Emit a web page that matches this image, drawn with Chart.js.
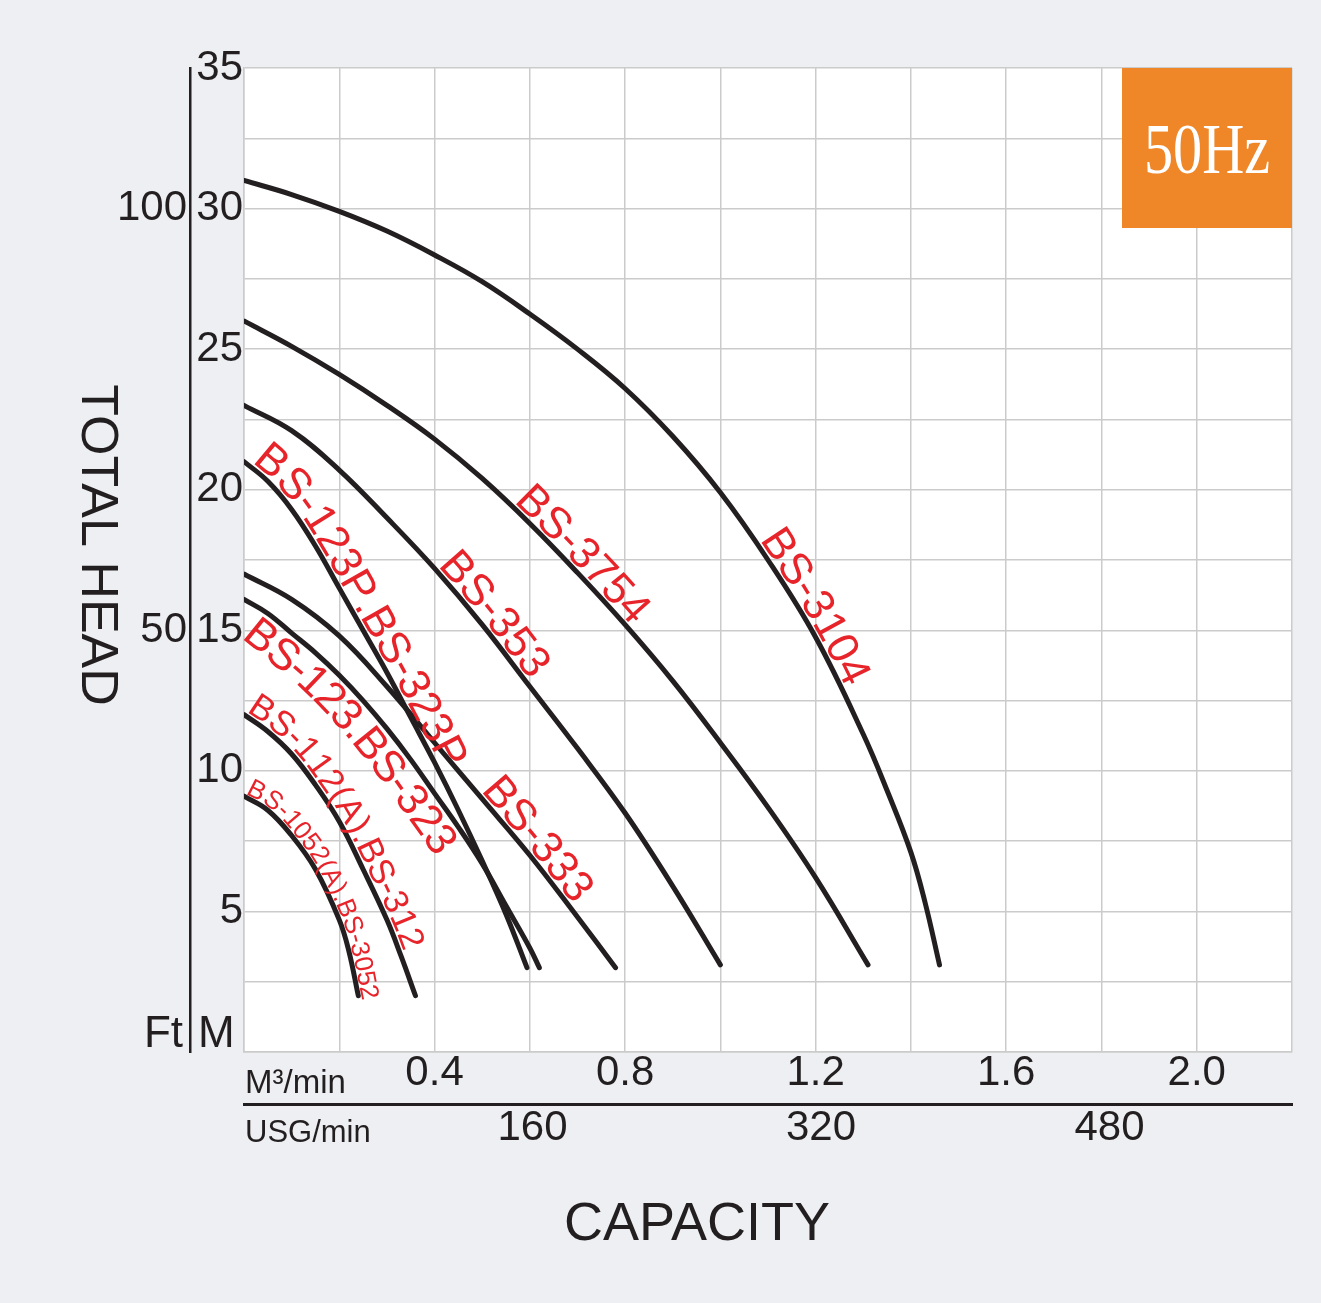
<!DOCTYPE html>
<html>
<head>
<meta charset="utf-8">
<title>50Hz pump curves</title>
<script src="https://cdn.jsdelivr.net/npm/chart.js@4/dist/chart.umd.min.js"></script>
<style>
  body { margin: 0; background: #edeff2; }
  #wrap { width: 1321px; height: 1303px; }
</style>
</head>
<body>
<div id="wrap"><canvas id="pumpChart"></canvas></div>
<script>
// capacity in m3/min, head in m
var q3104 = [0, 0.1, 0.2, 0.3, 0.4, 0.5, 0.6, 0.7, 0.8, 0.9, 1.0, 1.1, 1.2, 1.3, 1.35, 1.4, 1.43, 1.46];
var h3104 = [31.0, 30.5, 29.9, 29.2, 28.35, 27.4, 26.25, 25.0, 23.6, 21.9, 19.9, 17.5, 14.75, 11.3, 9.3, 7.1, 5.3, 3.1];

var q3754 = [0, 0.1, 0.2, 0.3, 0.4, 0.5, 0.6, 0.7, 0.8, 0.9, 1.0, 1.1, 1.2, 1.31];
var h3754 = [26.0, 25.1, 24.1, 23.0, 21.8, 20.4, 18.8, 17.05, 15.2, 13.2, 11.0, 8.7, 6.2, 3.1];

var q353 = [0, 0.1, 0.2, 0.3, 0.4, 0.5, 0.6, 0.7, 0.8, 0.9, 1.0];
var h353 = [23.0, 22.1, 20.7, 19.0, 17.2, 15.2, 13.0, 10.8, 8.5, 5.9, 3.1];

var q123p = [0, 0.05, 0.1, 0.15, 0.2, 0.25, 0.3, 0.35, 0.4, 0.45, 0.5, 0.55, 0.594];
var h123p = [21.0, 20.3, 19.3, 18.0, 16.5, 15.0, 13.5, 11.9, 10.3, 8.6, 6.8, 4.9, 3.0];

var q333 = [0, 0.1, 0.2, 0.3, 0.4, 0.5, 0.6, 0.7, 0.78];
var h333 = [17.0, 16.1, 14.8, 13.0, 11.0, 9.0, 7.0, 4.8, 3.0];

var q123 = [0, 0.05, 0.1, 0.15, 0.2, 0.25, 0.3, 0.35, 0.4, 0.45, 0.5, 0.55, 0.6, 0.62];
var h123 = [16.1, 15.6, 14.9, 14.2, 13.4, 12.5, 11.5, 10.4, 9.2, 8.0, 6.7, 5.2, 3.7, 3.0];

var q112 = [0, 0.05, 0.1, 0.15, 0.2, 0.25, 0.3, 0.33, 0.36];
var h112 = [12.0, 11.4, 10.6, 9.5, 8.2, 6.5, 4.7, 3.4, 2.0];

var q1052 = [0, 0.05, 0.1, 0.15, 0.2, 0.22, 0.24];
var h1052 = [9.1, 8.6, 7.7, 6.5, 4.7, 3.6, 2.0];

// axes
var xGridValues = [0, 0.2, 0.4, 0.6, 0.8, 1.0, 1.2, 1.4, 1.6, 1.8, 2.0, 2.2];
var xTickLabels = [0.4, 0.8, 1.2, 1.6, 2.0];
var yGridValues = [0, 2.5, 5, 7.5, 10, 12.5, 15, 17.5, 20, 22.5, 25, 27.5, 30, 32.5, 35];
var yTickLabels = [5, 10, 15, 20, 25, 30, 35];
var ftTicks = [50, 100];
var usgTicks = [160, 320, 480];
var usgPerM3 = 264.172;

var ink = '#231f20';
var gridColor = '#cbcbcb';
var labelRed = '#e8242b';
var fontFamily = '"Liberation Sans", Arial, sans-serif';

// captions written along their curve: series index, capacity where the text starts,
// baseline distance from the line (negative = under the line)
var curveLabels = [
    { text: 'BS-3104', series: 0, startQ: 1.075, offset: 4, size: 44 },
    { text: 'BS-3754', series: 1, startQ: 0.56, offset: 4, size: 44 },
    { text: 'BS-353', series: 2, startQ: 0.40, offset: 4, size: 44 },
    { text: 'BS-123P.BS-323P', series: 3, startQ: 0.01, offset: 4, size: 44 },
    { text: 'BS-333', series: 4, startQ: 0.49, offset: 4, size: 44 },
    { text: 'BS-123.BS-323', series: 5, startQ: 0.04, offset: -36, size: 44 },
    { text: 'BS-112(A).BS-312', series: 6, startQ: 0.0, offset: 4, size: 35 },
    { text: 'BS-1052(A).BS-3052', series: 7, startQ: 0.0, offset: 3, size: 26 }
];

function pairs(qs, hs) {
    return qs.map(function (q, i) { return { x: q, y: hs[i] }; });
}

function curve(qs, hs) {
    return {
        data: pairs(qs, hs),
        borderColor: ink,
        borderWidth: 5,
        pointRadius: 0,
        fill: false,
        tension: 0.4,
        borderCapStyle: 'round',
        borderJoinStyle: 'round'
    };
}

function labelFor(v, list, digits) {
    var hit = list.find(function (t) { return Math.abs(t - v) < 1e-6; });
    if (hit === undefined) return '';
    return digits ? hit.toFixed(digits) : String(hit);
}

function setTicks(values) {
    return function (scale) {
        scale.ticks = values.map(function (v) { return { value: v }; });
    };
}

// sample the drawn bezier of a dataset into a polyline with arc lengths
function samplePath(points) {
    var out = [];
    for (var i = 0; i < points.length - 1; i++) {
        var p = points[i], q = points[i + 1];
        var c1x = p.cp2x === undefined ? p.x : p.cp2x;
        var c1y = p.cp2y === undefined ? p.y : p.cp2y;
        var c2x = q.cp1x === undefined ? q.x : q.cp1x;
        var c2y = q.cp1y === undefined ? q.y : q.cp1y;
        for (var k = 0; k < 24; k++) {
            var t = k / 24, u = 1 - t;
            out.push({
                x: u * u * u * p.x + 3 * u * u * t * c1x + 3 * u * t * t * c2x + t * t * t * q.x,
                y: u * u * u * p.y + 3 * u * u * t * c1y + 3 * u * t * t * c2y + t * t * t * q.y
            });
        }
    }
    var last = points[points.length - 1];
    out.push({ x: last.x, y: last.y });
    out[0].s = 0;
    for (var j = 1; j < out.length; j++) {
        out[j].s = out[j - 1].s + Math.hypot(out[j].x - out[j - 1].x, out[j].y - out[j - 1].y);
    }
    return out;
}

function pointAt(path, s) {
    var n = path.length;
    var i = 1;
    if (s <= 0) {
        i = 1;
    } else if (s >= path[n - 1].s) {
        i = n - 1;
    } else {
        while (i < n - 1 && path[i].s < s) i++;
    }
    var a = path[i - 1], b = path[i];
    var len = (b.s - a.s) || 1;
    var t = (s - a.s) / len;
    return { x: a.x + (b.x - a.x) * t, y: a.y + (b.y - a.y) * t };
}

function arcAtX(path, px) {
    for (var i = 1; i < path.length; i++) {
        if (path[i].x >= px) {
            var a = path[i - 1], b = path[i];
            var t = (px - a.x) / ((b.x - a.x) || 1);
            return a.s + (b.s - a.s) * Math.max(0, Math.min(1, t));
        }
    }
    return path[path.length - 1].s;
}

var decorations = {
    id: 'decorations',
    beforeDraw: function (chart) {
        var a = chart.chartArea;
        var ctx = chart.ctx;
        ctx.save();
        ctx.fillStyle = '#ffffff';
        ctx.fillRect(a.left, a.top, a.right - a.left, a.bottom - a.top);
        ctx.restore();
    },
    afterDatasetsDraw: function (chart) {
        var ctx = chart.ctx;
        var xs = chart.scales.x;
        var a = chart.chartArea;

        curveLabels.forEach(function (l) {
            var path = samplePath(chart.getDatasetMeta(l.series).data);
            var s = arcAtX(path, xs.getPixelForValue(l.startQ));
            ctx.save();
            ctx.font = l.size + 'px ' + fontFamily;
            ctx.fillStyle = labelRed;
            ctx.textAlign = 'center';
            ctx.textBaseline = 'alphabetic';
            for (var i = 0; i < l.text.length; i++) {
                var ch = l.text[i];
                var w = ctx.measureText(ch).width;
                var mid = s + w / 2;
                var p = pointAt(path, mid);
                var p0 = pointAt(path, mid - 3);
                var p1 = pointAt(path, mid + 3);
                ctx.save();
                ctx.translate(p.x, p.y);
                ctx.rotate(Math.atan2(p1.y - p0.y, p1.x - p0.x));
                ctx.fillText(ch, 0, -l.offset);
                ctx.restore();
                s += w;
            }
            ctx.restore();
        });

        // 50Hz badge
        ctx.save();
        ctx.fillStyle = '#ef8627';
        ctx.fillRect(a.right - 170, a.top, 170, 160);
        ctx.fillStyle = '#ffffff';
        ctx.font = '71px "Liberation Serif", "Times New Roman", serif';
        ctx.textAlign = 'center';
        ctx.textBaseline = 'alphabetic';
        ctx.translate(a.right - 85, a.top + 105);
        ctx.scale(0.82, 1);
        ctx.fillText('50Hz', 0, 0);
        ctx.restore();
    },
    afterDraw: function (chart) {
        var ctx = chart.ctx;
        var a = chart.chartArea;
        ctx.save();
        ctx.fillStyle = ink;

        ctx.font = '52px ' + fontFamily;
        ctx.textAlign = 'center';
        ctx.textBaseline = 'alphabetic';
        ctx.save();
        ctx.translate(82, 545);
        ctx.rotate(Math.PI / 2);
        ctx.fillText('TOTAL HEAD', 0, 0);
        ctx.restore();

        ctx.font = '54px ' + fontFamily;
        ctx.fillText('CAPACITY', 697, 1240);

        ctx.textAlign = 'left';
        ctx.font = '33px ' + fontFamily;
        ctx.fillText('M\u00b3/min', a.left + 1, a.bottom + 41);
        ctx.font = '31px ' + fontFamily;
        ctx.fillText('USG/min', a.left + 1, a.bottom + 90);

        ctx.font = '44px ' + fontFamily;
        ctx.fillText('M', 198, a.bottom - 5);
        ctx.textAlign = 'right';
        ctx.fillText('Ft', 183, a.bottom - 5);
        ctx.restore();
    }
};

Chart.defaults.font.family = fontFamily;
Chart.defaults.color = ink;

new Chart('pumpChart', {
    type: 'line',
    data: {
        datasets: [
            curve(q3104, h3104),
            curve(q3754, h3754),
            curve(q353, h353),
            curve(q123p, h123p),
            curve(q333, h333),
            curve(q123, h123),
            curve(q112, h112),
            curve(q1052, h1052)
        ]
    },
    options: {
        responsive: true,
        maintainAspectRatio: false,
        animation: false,
        layout: { padding: { top: 68, right: 29, bottom: 143, left: 0 } },
        plugins: { legend: { display: false }, tooltip: { enabled: false } },
        scales: {
            x: {
                type: 'linear', position: 'bottom', weight: 0,
                min: 0, max: 2.2,
                afterBuildTicks: setTicks(xGridValues),
                afterFit: function (s) { s.height = 52; },
                grid: { color: gridColor, lineWidth: 1.5, drawTicks: false },
                border: { color: gridColor, width: 1.5 },
                ticks: {
                    padding: 0, autoSkip: false, maxRotation: 0,
                    font: { size: 42, lineHeight: 1 },
                    callback: function (v) { return labelFor(v, xTickLabels, 1); }
                }
            },
            x2: {
                type: 'linear', position: 'bottom', weight: 1,
                min: 0, max: 2.2 * usgPerM3,
                afterBuildTicks: setTicks(usgTicks),
                afterFit: function (s) { s.height = 56; },
                grid: { display: false, drawTicks: false },
                border: { display: true, color: ink, width: 3 },
                ticks: {
                    padding: 3, autoSkip: false, maxRotation: 0,
                    font: { size: 42, lineHeight: 1 }
                }
            },
            y: {
                type: 'linear', position: 'left', weight: 0,
                min: 0, max: 35,
                afterBuildTicks: setTicks(yGridValues),
                afterFit: function (s) { s.width = 54; },
                grid: { color: gridColor, lineWidth: 1.5, drawTicks: false },
                border: { color: gridColor, width: 1.5 },
                ticks: {
                    padding: 1, autoSkip: false,
                    font: { size: 42, lineHeight: 1 },
                    callback: function (v) { return labelFor(v, yTickLabels, 0); }
                }
            },
            yFt: {
                type: 'linear', position: 'left', weight: 1,
                // the Ft ticks sit on the 15 m and 30 m lines
                min: 0, max: 35 * 100 / 30,
                afterBuildTicks: setTicks(ftTicks),
                afterFit: function (s) { s.width = 190; },
                grid: { display: false, drawTicks: false },
                border: { display: true, color: ink, width: 2.5 },
                ticks: {
                    padding: 3, autoSkip: false,
                    font: { size: 42, lineHeight: 1 }
                }
            }
        }
    },
    plugins: [decorations]
});
</script>
</body>
</html>
